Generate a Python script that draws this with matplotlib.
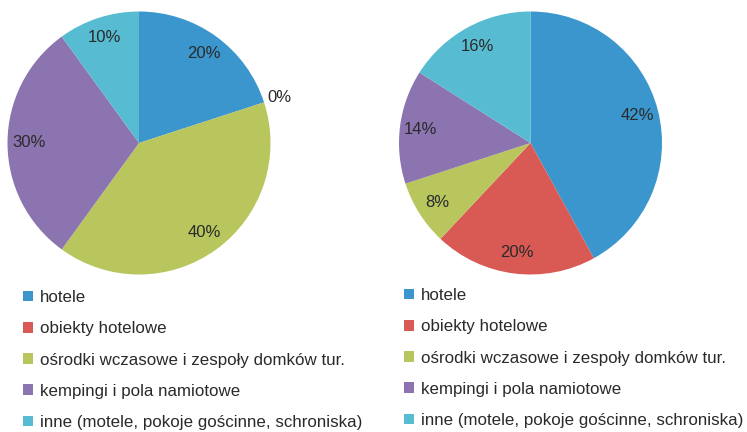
import matplotlib
matplotlib.use("Agg")
import matplotlib.pyplot as plt
from matplotlib.patches import Patch

plt.rcParams['font.family'] = ['Liberation Sans', 'DejaVu Sans']

categories = ["hotele", "obiekty hotelowe", "ośrodki wczasowe i zespoły domków tur.",
              "kempingi i pola namiotowe", "inne (motele, pokoje gościnne, schroniska)"]
left_values = [20, 0, 40, 30, 10]
right_values = [42, 20, 8, 14, 16]
colors = ["#3a96cd", "#d95a55", "#b9c55d", "#8b74b0", "#57bcd1"]
text_color = "#2a2a2a"

W, H = 747, 432
fig = plt.figure(figsize=(W / 100, H / 100), dpi=100)

def draw_pie(cx, cy, r, values):
    ax = fig.add_axes([(cx - r) / W, (H - cy - r) / H, 2 * r / W, 2 * r / H])
    wedges, texts, autotexts = ax.pie(values, colors=colors, startangle=90, counterclock=False,
                                      autopct=lambda p: f"{p:.0f}%", pctdistance=0.84,
                                      wedgeprops=dict(linewidth=0),
                                      textprops=dict(color=text_color, fontsize=12))
    for v, t in zip(values, autotexts):
        if v == 0:
            x, y = t.get_position()
            t.set_position((x / 0.84 * 1.12, y / 0.84 * 1.12))
    ax.set_xlim(-1, 1)
    ax.set_ylim(-1, 1)
    ax.set_aspect('equal')
    ax.axis('off')
    return ax

draw_pie(139, 143, 131.5, left_values)
draw_pie(530.5, 143, 131.5, right_values)

handles = [Patch(facecolor=c, edgecolor='none') for c in colors]

def draw_legend(x_px, y_px):
    leg = fig.legend(handles, categories, loc='upper left',
                     bbox_to_anchor=(x_px / W, 1 - y_px / H),
                     frameon=False, fontsize=12.2, labelspacing=0.96,
                     handlelength=0.6, handleheight=0.6, handletextpad=0.42,
                     borderpad=0, borderaxespad=0, labelcolor=text_color)
    return leg

draw_legend(23, 290)
draw_legend(404, 288)

fig.savefig("out.png", dpi=100, facecolor="white")
